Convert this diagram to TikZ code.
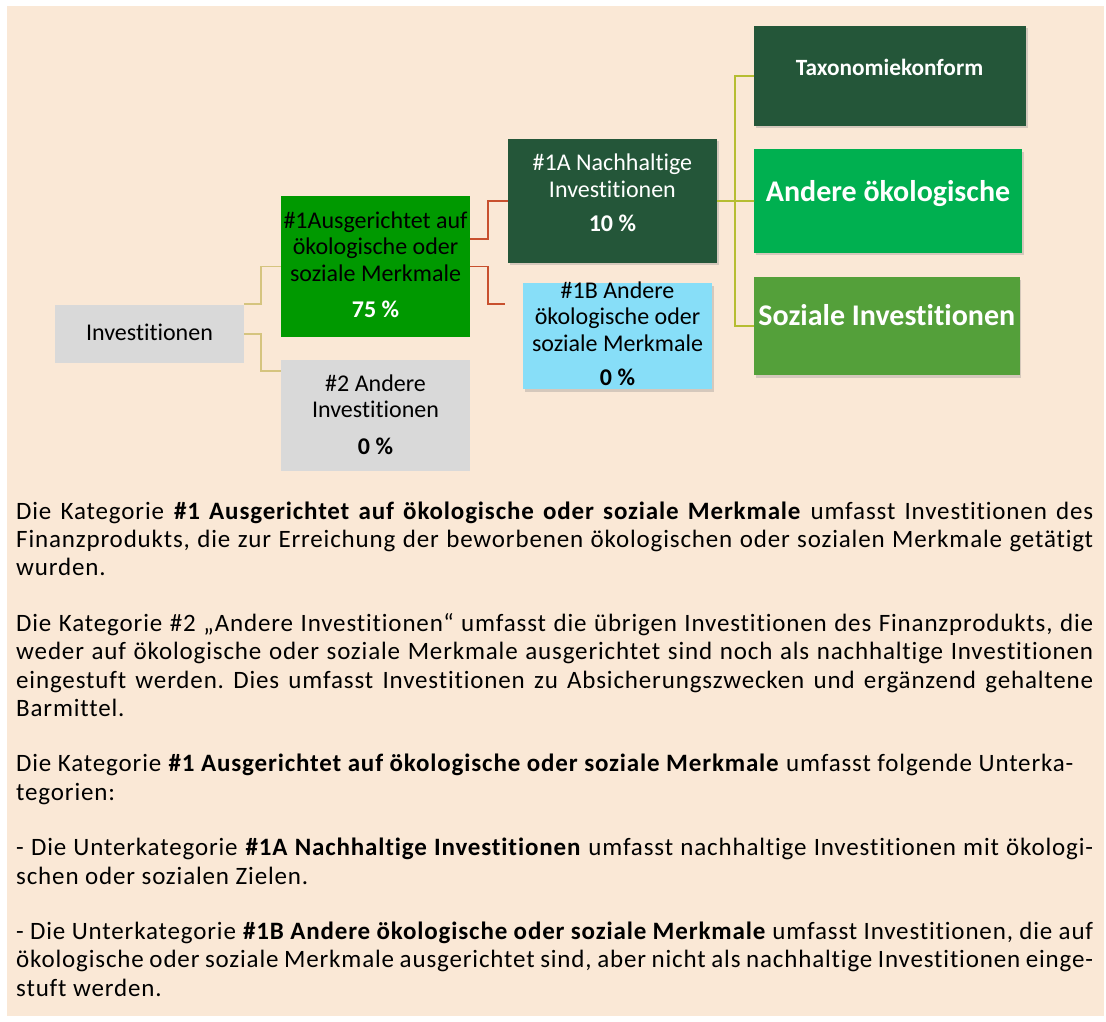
\documentclass[tikz,border=0pt]{standalone}
\usepackage{fontspec}
\setmainfont{Carlito}[Ligatures=NoCommon]
\newfontfamily\bodyfamily{Carlito}[Ligatures=NoCommon, LetterSpace=3.4]
\usetikzlibrary{shadows}
\definecolor{bgbeige}{HTML}{FAE8D6}
\definecolor{boxgray}{HTML}{D9D9D9}
\definecolor{brightgreen}{HTML}{009900}
\definecolor{darkgreen}{HTML}{245639}
\definecolor{lightblue}{HTML}{87DEF8}
\definecolor{midgreen}{HTML}{00B050}
\definecolor{leafgreen}{HTML}{54A03A}
\definecolor{tanline}{HTML}{D5C47F}
\definecolor{redline}{HTML}{C8502E}
\definecolor{oliveline}{HTML}{B5BD32}
\newlength\bodyW \setlength\bodyW{1077pt}
\newcommand\fullline[1]{\hbox to \bodyW{#1}}
\newcommand\shortline[1]{\hbox{#1}}
\newcommand\diagboxfont{\fontsize{24}{26.5}\selectfont}
\newcommand\paratextfont{\bodyfamily\fontsize{25}{28.4}\selectfont\frenchspacing}
\newcommand\pgapskip{\vskip 27pt}
\begin{document}
\begin{tikzpicture}[x=1pt,y=-1pt,
  box/.style={anchor=north west, inner sep=0pt, outer sep=0pt, draw=none},
  shadowed/.style={drop shadow={shadow xshift=1.5pt,shadow yshift=-2.5pt,opacity=.3}},
  lbl/.style={anchor=base, inner sep=0pt, font=\diagboxfont},
  conn/.style={line width=1.7pt}]
\useasboundingbox (0,0) rectangle (1106,1022);
\fill[white] (0,0) rectangle (1106,1022);
\fill[bgbeige] (7,6) rectangle (1104,1016);

% boxes
\node[box, fill=boxgray, minimum width=189pt, minimum height=57.4pt] (inv) at (55,305.3) {};
\node[box, fill=brightgreen, minimum width=189pt, minimum height=140.7pt] (g1) at (281,196) {};
\node[box, fill=boxgray, minimum width=189pt, minimum height=110.7pt] (g2) at (281,360) {};
\node[box, shadowed, fill=darkgreen, minimum width=209pt, minimum height=123.7pt] (g1a) at (508,139) {};
\node[box, shadowed, fill=lightblue, minimum width=189pt, minimum height=106pt] (g1b) at (523,283.3) {};
\node[box, shadowed, fill=darkgreen, minimum width=272pt, minimum height=100pt] (tax) at (754,26) {};
\node[box, shadowed, fill=midgreen, minimum width=268pt, minimum height=103.4pt] (and) at (754,149.3) {};
\node[box, shadowed, fill=leafgreen, minimum width=265.6pt, minimum height=98pt] (soz) at (754,277.3) {};

% connectors
\draw[conn, tanline] ([yshift=1pt]inv.north east) -- ++(17,0) |- (g1.west);
\draw[conn, tanline] (inv.east) -- ++(17,0) |- ([yshift=-11pt]g2.north west);
\draw[conn, redline] ([yshift=27.6pt]g1.east) -- ++(18,0) |- (g1a.west);
\draw[conn, redline] (g1.east) -- ++(18,0) |- ([xshift=-18pt,yshift=-21pt]g1b.north west);
\draw[conn, oliveline] (g1a.east) -- ++(18.2,0) |- (tax.west);
\draw[conn, oliveline] (g1a.east) -- (and.west);
\draw[conn, oliveline] (g1a.east) -- ++(18.2,0) |- (soz.west);

% box texts
\node[lbl] (t-inv) at (149.5,340.7) {Investitionen};
\node[lbl] (t-g1) at (375.5,228.3) {\begin{tabular}[t]{@{}c@{}}\#1Ausgerichtet auf\\ökologische oder\\soziale Merkmale\\[10pt]\textcolor{white}{\textbf{75 \%}}\end{tabular}};
\node[lbl] (t-g2) at (375.5,391) {\begin{tabular}[t]{@{}c@{}}\#2 Andere\\Investitionen\\[10pt]\textbf{0 \%}\end{tabular}};
\node[lbl, text=white] (t-g1a) at (612.4,170.7) {\begin{tabular}[t]{@{}c@{}}\#1A Nachhaltige\\Investitionen\\[8pt]\textbf{10 \%}\end{tabular}};
\node[lbl] (t-g1b) at (617.5,298.3) {\begin{tabular}[t]{@{}c@{}}\#1B Andere\\ökologische oder\\soziale Merkmale\\[8pt]\textbf{0 \%}\end{tabular}};
\node[anchor=base, inner sep=0pt, text=white, font=\fontsize{23.3}{27}\selectfont\bfseries] (t-tax) at (889.5,76) {Taxonomiekonform};
\node[anchor=base, inner sep=0pt, text=white, font=\fontsize{30}{34}\selectfont\bfseries] (t-and) at (888,201.7) {Andere ökologische};
\node[anchor=base, inner sep=0pt, text=white, font=\fontsize{30}{34}\selectfont\bfseries] (t-soz) at (886.8,325.7) {Soziale Investitionen};

% body text
\node[anchor=base west, inner sep=0pt] (body) at (16,519) {\vtop{\paratextfont
\fullline{Die Kategorie \textbf{\#1 Ausgerichtet auf ökologische oder soziale Merkmale} umfasst Investitionen des}
\fullline{Finanzprodukts, die zur Erreichung der beworbenen ökologischen oder sozialen Merkmale getätigt}
\shortline{wurden.}
\pgapskip
\fullline{Die Kategorie \#2 „Andere Investitionen“ umfasst die übrigen Investitionen des Finanzprodukts, die}
\fullline{weder auf ökologische oder soziale Merkmale ausgerichtet sind noch als nachhaltige Investitionen}
\fullline{eingestuft werden. Dies umfasst Investitionen zu Absicherungszwecken und ergänzend gehaltene}
\shortline{Barmittel.}
\pgapskip
\shortline{Die Kategorie \textbf{\#1 Ausgerichtet auf ökologische oder soziale Merkmale} umfasst folgende Unterka-}
\shortline{tegorien:}
\pgapskip
\fullline{- Die Unterkategorie \textbf{\#1A Nachhaltige Investitionen} umfasst nachhaltige Investitionen mit ökologi-}
\shortline{schen oder sozialen Zielen.}
\pgapskip
\fullline{- Die Unterkategorie \textbf{\#1B Andere ökologische oder soziale Merkmale} umfasst Investitionen, die auf}
\fullline{ökologische oder soziale Merkmale ausgerichtet sind, aber nicht als nachhaltige Investitionen einge-}
\shortline{stuft werden.}
}};
\end{tikzpicture}
\end{document}
